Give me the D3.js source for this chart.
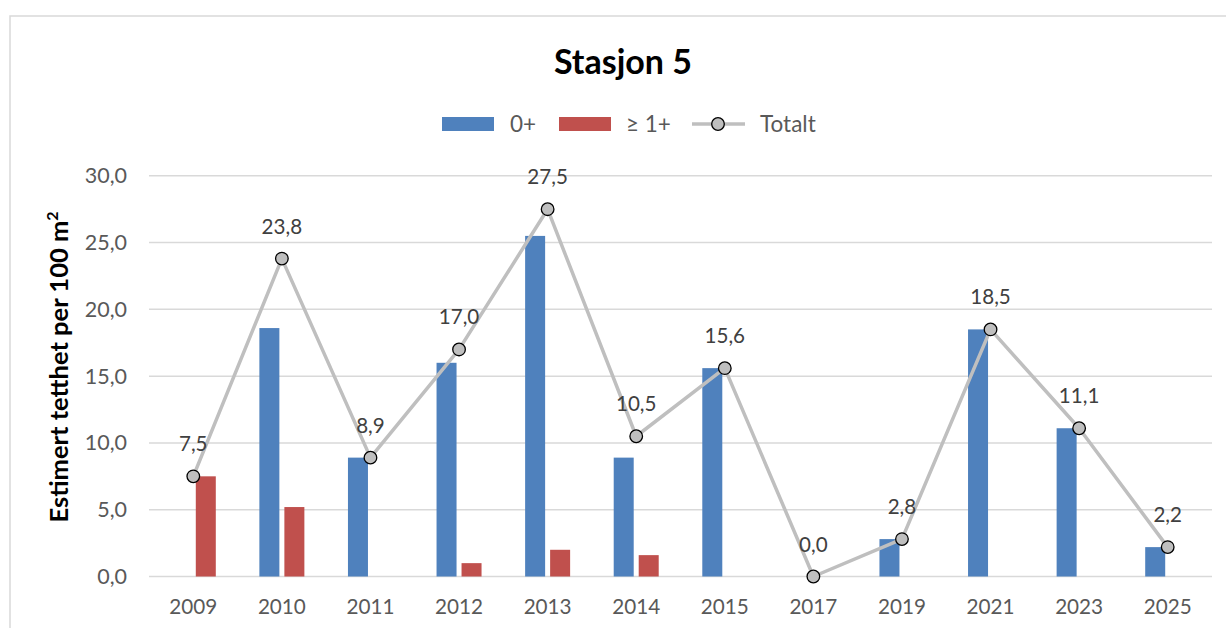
<!DOCTYPE html>
<html><head><meta charset="utf-8">
<script src="https://cdn.jsdelivr.net/npm/d3@7"></script>
<style>body{margin:0;background:#fff;} text{font-family:Lato,"Open Sans",sans-serif;}</style>
</head><body><svg id="c" width="1226" height="628"></svg>
<script>
const years = ["2009","2010","2011","2012","2013","2014","2015","2017","2019","2021","2023","2025"];
const young = [0,18.6,8.9,16.0,25.5,8.9,15.6,0,2.8,18.5,11.1,2.2];
const older = [7.5,5.2,0,1.0,2.0,1.6,0,0,0,0,0,0];
const total = [7.5,23.8,8.9,17.0,27.5,10.5,15.6,0.0,2.8,18.5,11.1,2.2];
const yTicks = [0,5,10,15,20,25,30];
const seriesNames = ["0+","\u2265 1+","Totalt"];

const svg = d3.select("#c");
const blue="#4f81bd", red="#c0504d", grey="#bfbfbf", txt="#595959";
// frame
svg.append("rect").attr("x",10).attr("y",16).attr("width",1240).attr("height",640)
  .attr("fill","none").attr("stroke","#d9d9d9").attr("stroke-width",1.5);

const x = d3.scaleBand().domain(years).range([149,1212]);
const y = d3.scaleLinear().domain([0,30]).range([576.5,175.8]);

// grid
svg.append("g").selectAll("line").data(yTicks).join("line")
  .attr("x1",149).attr("x2",1212).attr("y1",d=>y(d)).attr("y2",d=>y(d))
  .attr("stroke","#d9d9d9").attr("stroke-width",1.5);

// y axis labels
const yAxis = d3.axisLeft(y).tickValues(yTicks).tickSize(0).tickPadding(0)
  .tickFormat(d=>d3.format(".1f")(d).replace(".",","));
const ya = svg.append("g").attr("transform","translate(127,0)").call(yAxis);
ya.select(".domain").remove();
ya.selectAll("text").attr("fill",txt).style("font-size","21.5px").style("font-family","Lato,sans-serif");

// x axis labels
const xAxis = d3.axisBottom(x).tickSize(0).tickPadding(0);
const xa = svg.append("g").attr("transform","translate(0,599)").call(xAxis);
xa.select(".domain").remove();
xa.selectAll("text").attr("fill",txt).style("font-size","20.7px").style("font-family","Lato,sans-serif");

const cx = d => x(d)+x.bandwidth()/2;
// bars
svg.append("g").selectAll("rect").data(years.map((d,i)=>({d,v:young[i]})).filter(o=>o.v>0)).join("rect")
  .attr("x",o=>cx(o.d)-22.5).attr("width",20).attr("y",o=>y(o.v)).attr("height",o=>y(0)-y(o.v)).attr("fill",blue);
svg.append("g").selectAll("rect").data(years.map((d,i)=>({d,v:older[i]})).filter(o=>o.v>0)).join("rect")
  .attr("x",o=>cx(o.d)+2.5).attr("width",20).attr("y",o=>y(o.v)).attr("height",o=>y(0)-y(o.v)).attr("fill",red);

// line
const pts = years.map((d,i)=>({d,v:total[i]}));
svg.append("path").datum(pts).attr("fill","none").attr("stroke",grey).attr("stroke-width",3.5)
  .attr("stroke-linejoin","round")
  .attr("d",d3.line().x(o=>cx(o.d)).y(o=>y(o.v)));
svg.append("g").selectAll("circle").data(pts).join("circle")
  .attr("cx",o=>cx(o.d)).attr("cy",o=>y(o.v)).attr("r",6.3)
  .attr("fill",grey).attr("stroke","#000").attr("stroke-width",1.3);
svg.append("g").selectAll("text").data(pts).join("text")
  .attr("x",o=>cx(o.d)).attr("y",o=>y(o.v)-25).attr("text-anchor","middle")
  .attr("fill","#404040").style("font-size","20.6px")
  .text(o=>d3.format(".1f")(o.v).replace(".",","));

// title
svg.append("text").attr("x",623).attr("y",74).attr("text-anchor","middle")
  .style("font-size","34px").style("font-weight","bold").attr("fill","#000").text("Stasjon 5");

// y title
const yt = svg.append("text").attr("transform","translate(68,367) rotate(-90)").attr("text-anchor","middle")
  .style("font-size","25.5px").style("font-weight","bold").attr("fill","#000");
yt.append("tspan").text("Estimert tetthet per 100 m");
yt.append("tspan").text("2").attr("dy",-10).style("font-size","16px");

// legend
const lg = svg.append("g");
lg.append("rect").attr("x",442).attr("y",117).attr("width",52).attr("height",14).attr("fill",blue);
lg.append("text").attr("x",510).attr("y",132).attr("fill",txt).style("font-size","22.5px").text(seriesNames[0]);
lg.append("rect").attr("x",559).attr("y",117).attr("width",52).attr("height",14).attr("fill",red);
lg.append("text").attr("x",626).attr("y",132).attr("fill",txt).style("font-size","22.5px").text(seriesNames[1]);
lg.append("line").attr("x1",692).attr("x2",745).attr("y1",124).attr("y2",124).attr("stroke",grey).attr("stroke-width",3.5);
lg.append("circle").attr("cx",718).attr("cy",124).attr("r",6.3).attr("fill",grey).attr("stroke","#000").attr("stroke-width",1.3);
lg.append("text").attr("x",760).attr("y",132).attr("fill",txt).style("font-size","22.5px").text(seriesNames[2]);
</script></body></html>
